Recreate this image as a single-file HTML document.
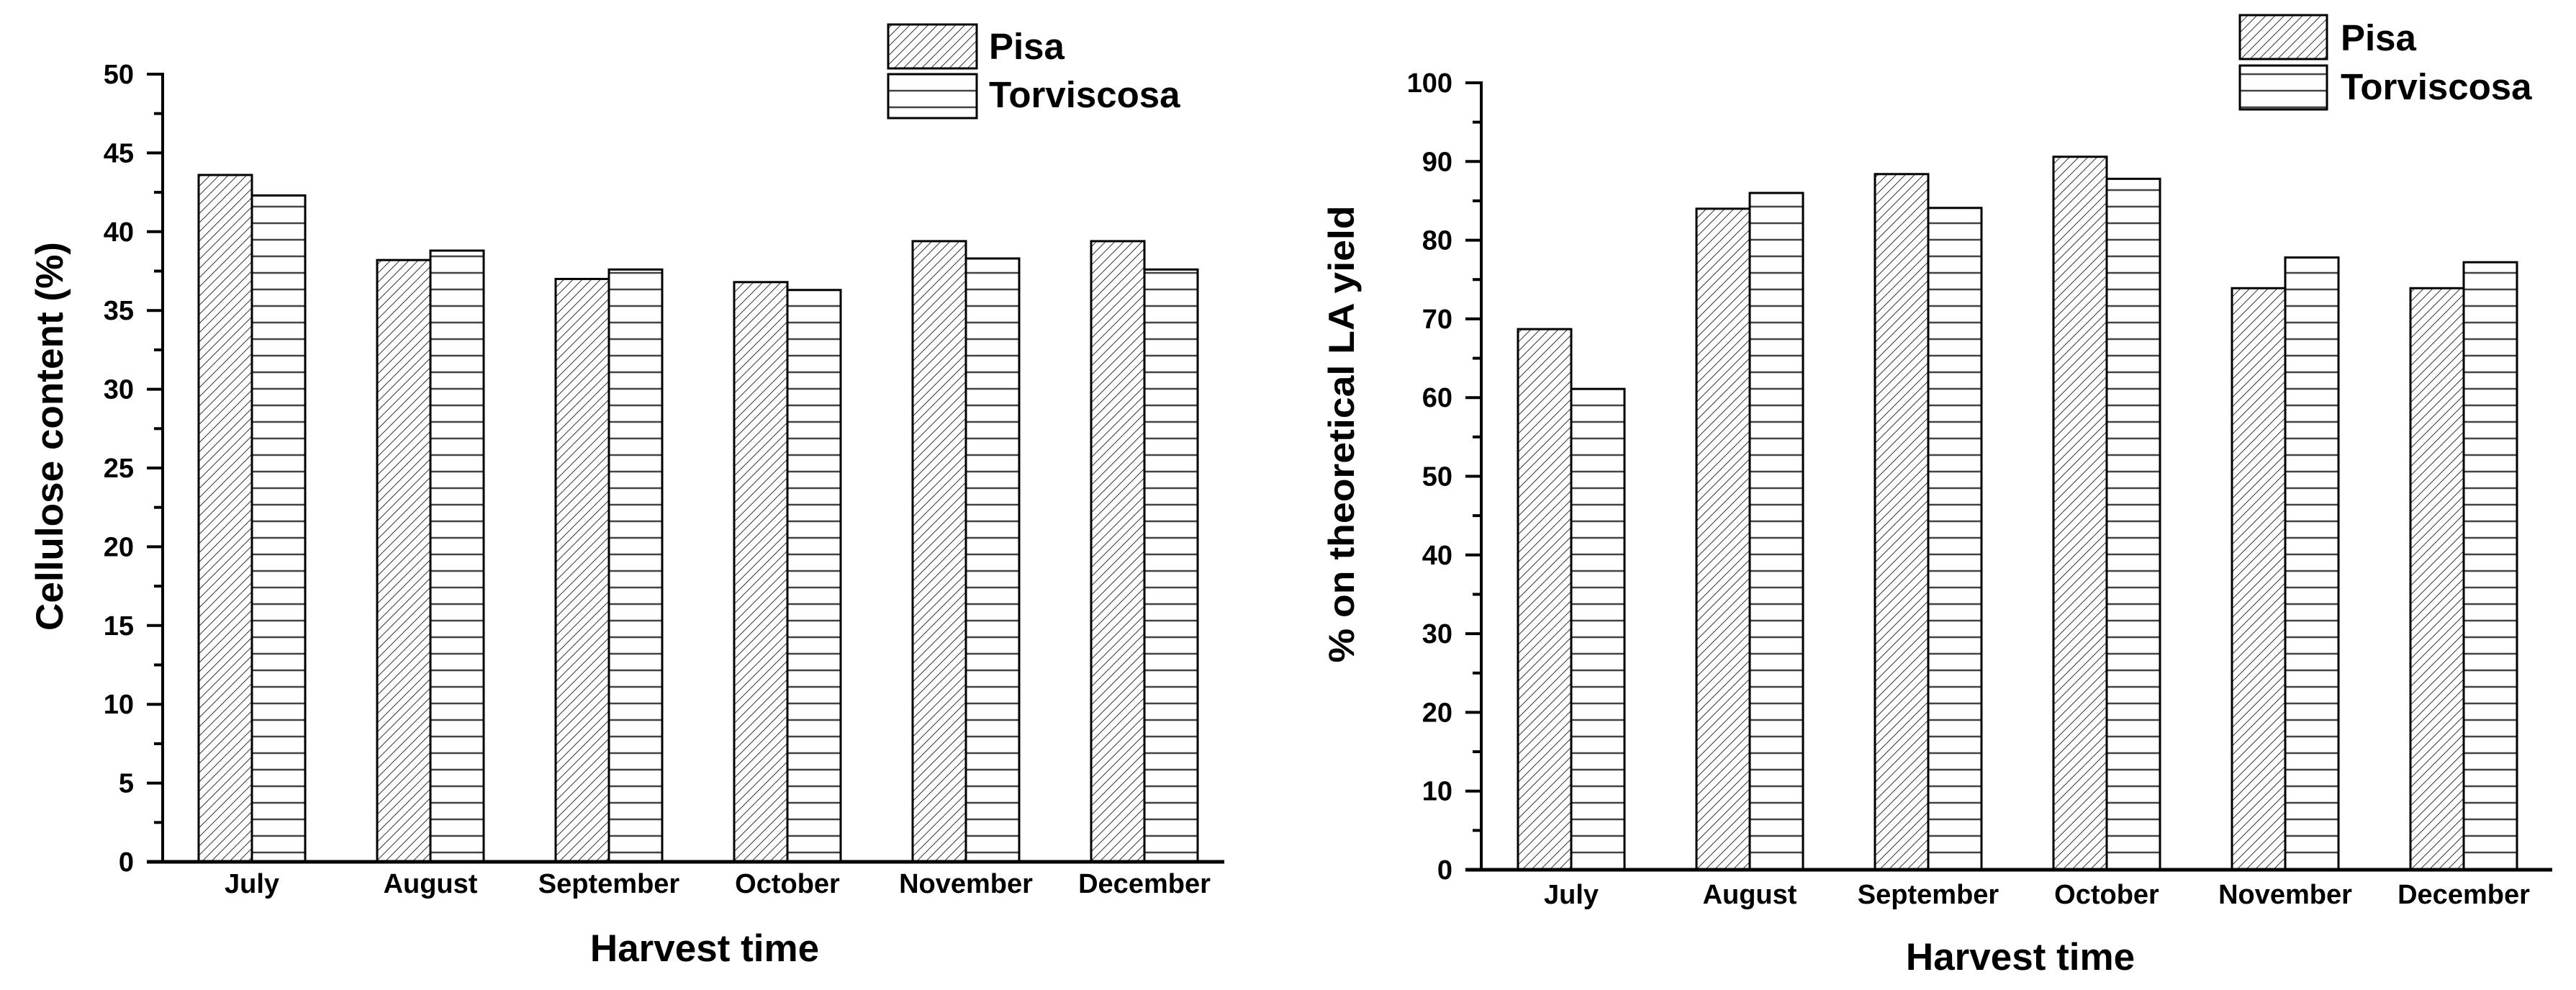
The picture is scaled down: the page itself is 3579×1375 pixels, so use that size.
<!DOCTYPE html>
<html><head><meta charset="utf-8"><title>Cellulose content and LA yield by harvest time</title>
<style>html,body{margin:0;padding:0;background:#fff;}svg{display:block;}
text{font-family:"Liberation Sans",Arial,sans-serif;font-weight:bold;fill:#000;}</style></head>
<body>
<svg id="fig" width="3579" height="1375" viewBox="0 0 3579 1375" xmlns="http://www.w3.org/2000/svg">
<defs>
<pattern id="diag" patternUnits="userSpaceOnUse" width="9" height="9" patternTransform="rotate(45)">
<rect width="9" height="9" fill="#fff"/><line x1="0" y1="0" x2="0" y2="9" stroke="#333" stroke-width="2"/></pattern>
<pattern id="horiz" patternUnits="userSpaceOnUse" width="40" height="23">
<rect width="40" height="23" fill="#fff"/><line x1="0" y1="11" x2="40" y2="11" stroke="#444" stroke-width="2.5"/></pattern>
</defs>
<g id="g"></g>
</svg>
<script>
const months = ["July","August","September","October","November","December"];
const seriesNames = ["Pisa","Torviscosa"];
const celluloseP = [43.6,38.2,37.0,36.8,39.4,39.4];
const celluloseT = [42.3,38.8,37.6,36.3,38.3,37.6];
const yieldP = [68.7,84.0,88.4,90.6,73.9,73.9];
const yieldT = [61.1,86.0,84.1,87.8,77.8,77.2];
const leftTicks = ["0","5","10","15","20","25","30","35","40","45","50"];
const rightTicks = ["0","10","20","30","40","50","60","70","80","90","100"];

const NS="http://www.w3.org/2000/svg";
const root=document.getElementById('g');
function el(tag,attrs,parent){const e=document.createElementNS(NS,tag);for(const k in attrs)e.setAttribute(k,attrs[k]);(parent||root).appendChild(e);return e;}

function chart(cfg){
  const grp=el('g',{});
  
  
  const y=v=>cfg.y0-(v-cfg.min)/(cfg.max-cfg.min)*(cfg.y0-cfg.yTop);
  const cx=i=>cfg.c0+i*cfg.step;
  // bars
  const sers=[cfg.p,cfg.t];
  sers.forEach((arr,s)=>{
    arr.forEach((v,i)=>{
      const x=cx(i)+(s===0?-cfg.bw:0);
      const r=el('rect',{x:x,y:y(v),width:cfg.bw,height:cfg.y0-y(v),fill:s===0?'url(#diag)':'url(#horiz)',stroke:'#000','stroke-width':3},grp);
      
      
    });
  });
  // axes
  const ya=el('line',{x1:cfg.ax,y1:cfg.yTop-2,x2:cfg.ax,y2:cfg.y0+2,stroke:'#000','stroke-width':4},grp);
  
  
  const xa=el('line',{x1:cfg.ax-22,y1:cfg.y0,x2:cfg.xEnd,y2:cfg.y0,stroke:'#000','stroke-width':5},grp);
  
  
  cfg.ticks.forEach((t,k)=>{
    const v=parseFloat(t), yy=y(v);
    el('line',{x1:cfg.ax-22,y1:yy,x2:cfg.ax,y2:yy,stroke:'#000','stroke-width':4},grp);
    const tx=el('text',{x:cfg.ax-40,y:yy+13,'text-anchor':'end','font-size':38},grp);
    tx.textContent=t;
    
    
    if(k<cfg.ticks.length-1){
      const m=y(v+cfg.minor);
      el('line',{x1:cfg.ax-12,y1:m,x2:cfg.ax,y2:m,stroke:'#000','stroke-width':4},grp);
    }
  });
  months.forEach((m,i)=>{
    const t=el('text',{x:cx(i),y:cfg.labY,'text-anchor':'middle','font-size':38},grp);
    t.textContent=m;
    
    
  });
  const xt=el('text',{x:cfg.xtX,y:cfg.xtY,'text-anchor':'middle','font-size':53},grp);
  xt.textContent='Harvest time';
  
  
  const yt=el('text',{x:0,y:0,'text-anchor':'middle','font-size':cfg.ytSize,transform:'translate('+cfg.ytX+','+cfg.ytY+') rotate(-90)',textLength:cfg.ytLen,lengthAdjust:'spacingAndGlyphs'},grp);
  yt.textContent=cfg.ytitle;
  
  
  // legend
  const L=cfg.leg;
  [['url(#diag)',L.y1,L.b1,'Pisa'],['url(#horiz)',L.y2,L.b2,'Torviscosa']].forEach(([f,yy,b,name])=>{
    const r=el('rect',{x:L.x,y:yy,width:L.w,height:L.h,fill:f,stroke:'#000','stroke-width':3},grp);
    
    
    const t=el('text',{x:L.tx,y:b,'font-size':51},grp);
    t.textContent=name;
    
    
  });
}

chart({name:'cellulose-chart',p:celluloseP,t:celluloseT,min:0,max:50,minor:2.5,y0:1197,yTop:103,ax:226,xEnd:1701,
  c0:350,step:248,bw:74,ticks:leftTicks,labY:1240,xtX:979,xtY:1335,
  ytitle:'Cellulose content (%)',ytX:87,ytY:606,ytSize:53,ytLen:540,
  leg:{x:1234,w:123,h:61,y1:34,y2:103,tx:1374,b1:82,b2:149}});
chart({name:'la-yield-chart',p:yieldP,t:yieldT,min:0,max:100,minor:5,y0:1208,yTop:115,ax:2058,xEnd:3546,
  c0:2183,step:248,bw:74,ticks:rightTicks,labY:1255,xtX:2807,xtY:1347,
  ytitle:'% on theoretical LA yield',ytX:1881,ytY:603,ytSize:50,ytLen:635,
  leg:{x:3112,w:121,h:61,y1:21,y2:91,tx:3252,b1:70,b2:138}});
</script>
</body></html>
